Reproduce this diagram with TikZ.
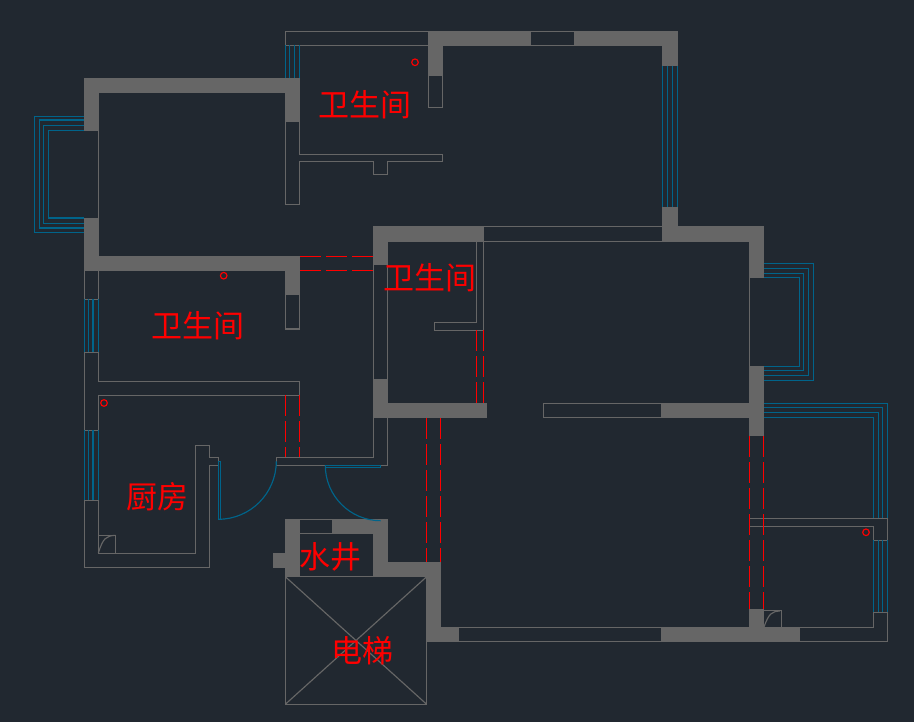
\documentclass[tikz,border=0pt]{standalone}
\usepackage{fontspec}
\newfontfamily\cjk{Noto Sans CJK SC}
\definecolor{cadbg}{HTML}{212830}
\definecolor{cadwall}{HTML}{666666}
\definecolor{cadblue}{HTML}{00648A}
\tikzset{
	wall/.style={fill=cadwall},
	outline/.style={draw=cadwall,line width=1.15pt},
	glass/.style={draw=cadblue,line width=1.15pt},
	hidden/.style={draw=red,line width=1.15pt,dash pattern=on 21pt off 5pt},
	roomlabel/.style={text=red,font=\cjk\fontsize{31}{31}\selectfont,inner sep=0pt},
	drain/.style={draw=red,line width=1.15pt}
}
\begin{document}
\begin{tikzpicture}[y=-1pt, x=1pt]
	\useasboundingbox (0,0) rectangle (914,722);
	\fill[cadbg] (0,0) rectangle (914,722);
	% thin outlines
	\draw[outline] (285.3,45.3) -- (285.3,31.3) -- (428,31.3);
	\draw[outline] (285.3,45.3) -- (428,45.3);
	\draw[outline] (531,31.3) -- (574,31.3) (531,45.3) -- (574,45.3);
	\draw[outline] (428.5,76) -- (428.5,107.7) -- (442.7,107.7) -- (442.7,76);
	\draw[outline] (285.3,122) -- (285.3,204.3) -- (299.3,204.3) -- (299.3,161.7) -- (373.3,161.7) -- (373.3,174.3) -- (387.3,174.3) -- (387.3,161.7) -- (442.7,161.7) -- (442.7,154.3) -- (299.3,154.3) -- (299.3,122);
	\draw[outline] (98.3,131) -- (98.3,218);
	\draw[outline] (285.5,295) -- (285.5,329) -- (299.3,329) -- (299.3,295);
	\draw[outline] (84.3,271) -- (84.3,567.3) -- (209.3,567.3) -- (209.3,465.3) -- (218.3,465.3);
	\draw[outline] (98.3,271) -- (98.3,381.3) -- (299.7,381.3) -- (299.7,395.3) -- (98.3,395.3) -- (98.3,553.3) -- (195.3,553.3) -- (195.3,445.3) -- (209.3,445.3) -- (209.3,457.3) -- (218.3,457.3) -- (218.3,461.3);
	\foreach \y in {299.3, 352.3, 430.3, 500.3}
		\draw[outline] (84.3,\y) -- (98.3,\y);
	\draw[outline] (98.3,535.3) -- (115.3,535.3) -- (115.3,553.3);
	\draw[outline] (98.3,553.3) .. controls (103,538) and (106,536) .. (115.3,535.3);
	\draw[outline] (276.3,457.3) -- (276.3,465.3) -- (387.3,465.3) -- (387.3,417.7);
	\draw[outline] (276.3,457.3) -- (373.7,457.3) -- (373.7,417.7);
	\draw[outline] (373.5,264.7) -- (373.5,379) (387.5,264.7) -- (387.5,379);
	\draw[outline] (484,226.3) -- (662,226.3) (484,241.3) -- (662,241.3);
	\draw[outline] (476.7,242) -- (476.7,322.3) -- (434.3,322.3) -- (434.3,330.3) -- (483.3,330.3) -- (483.3,241.3);
	\draw[outline] (661,403.3) -- (543.3,403.3) -- (543.3,417.3) -- (661,417.3);
	\draw[outline] (749.5,278) -- (749.5,366);
	\draw[outline] (749.3,518.3) -- (887.3,518.3) -- (887.3,641.3) -- (800,641.3);
	\draw[outline] (749.3,526.3) -- (873.3,526.3) -- (873.3,540.3) -- (887.3,540.3);
	\draw[outline] (887.3,612.3) -- (873.3,612.3) -- (873.3,627.3) -- (800,627.3);
	\draw[outline] (764,610.5) -- (781.7,610.5) -- (781.7,627);
	\draw[outline] (764,627) .. controls (769,613) and (772,611.5) .. (780,611);
	\draw[outline] (459,627.5) -- (661,627.5) (459,641.5) -- (661,641.5);
	\draw[outline] (300,519.5) -- (332,519.5) (300,533) -- (332,533);
	\draw[outline] (285.3,576.7) rectangle (426.7,704.3);
	\draw[outline] (285.3,576.7) -- (426.7,704.3) (426.7,576.7) -- (285.3,704.3);
	% walls
	\foreach \xa/\ya/\xb/\yb in {84/78/300/93, 84/78/99/131, 285/78/300/122, 84/218/99/271, 84/256/300/271, 285/256/300/295,
		428/31/531/46, 428/31/443/76, 574/31/678/46, 662/31/678/66, 662/207/678/242, 662/226/764/242, 749/226/764/278,
		749/366/764/436, 661/403/749/418, 373/226/484/242, 373/226/388/265, 373/379/388/418, 373/403/487/418,
		285/519/300/577, 300/519/388/534, 373/519/388/577, 273/553/285/568, 373/562/441/577, 427/562/441/642,
		427/627/459/642, 661/627/800/642, 749/609/764/642}
		\fill[wall] (\xa,\ya) rectangle (\xb,\yb);
	\fill[cadbg] (300,520) rectangle (332,533);
	% windows
	\foreach \xa/\ya/\yb in {34.3/116.3/232.3, 39.3/120/228, 43.3/125.3/223.3, 48.3/130.5/218}
		\draw[glass] (84,\ya) -- (\xa,\ya) -- (\xa,\yb) -- (84,\yb);
	\foreach \xa/\ya/\yb in {813.7/263.3/380.3, 808.7/268.3/375.3, 803.7/273.3/370.3, 799.7/277.3/366.3}
		\draw[glass] (764,\ya) -- (\xa,\ya) -- (\xa,\yb) -- (764,\yb);
	\foreach \xa/\ya in {887.3/403.3, 882.5/407.3, 878.5/412.7, 873.3/417.3}
		\draw[glass] (764,\ya) -- (\xa,\ya) -- (\xa,518.3);
	\foreach \x in {873.3, 878.3, 882.3, 887.3}
		\draw[glass] (\x,540.3) -- (\x,612.3);
	\foreach \x in {285.3, 289.7, 294.3, 299.3}
		\draw[glass] (\x,45.3) -- (\x,78);
	\foreach \x in {662.7, 667.7, 672.7, 677.3}
		\draw[glass] (\x,65.7) -- (\x,207.3);
	\foreach \x in {84.3, 88.7, 93, 98.3} {
		\draw[glass] (\x,299.3) -- (\x,352.3);
		\draw[glass] (\x,430.3) -- (\x,500.3);
	}
	% doors
	\draw[glass] (218.3,461.3) rectangle (220.7,519.3);
	\draw[glass] (276.3,461.3) arc (0:90:58);
	\draw[glass] (325.3,465.3) rectangle (380.7,467.7);
	\draw[glass] (325.3,465.3) arc (180:90:55.4);
	% hidden lines
	\foreach \x in {285.3, 299.3}
		\draw[hidden] (\x,395.3) -- (\x,457.3);
	\foreach \x in {476.7, 483.3}
		\draw[hidden] (\x,330.3) -- (\x,403);
	\foreach \x in {426.7, 440.7}
		\draw[hidden] (\x,418) -- (\x,562);
	\foreach \x in {749.3, 763.3}
		\draw[hidden] (\x,436) -- (\x,609);
	\foreach \y in {256.3, 270.5}
		\draw[hidden] (300,\y) -- (373,\y);
	% drains
	\foreach \x/\y in {223.7/275.7, 415/62.3, 104/403, 866/532.3}
		\draw[drain] (\x,\y) circle (3.3);
	% room names
	\node[roomlabel] (bathnorth) at (365,105) {卫生间};
	\node[roomlabel] (bathmid) at (430,278) {卫生间};
	\node[roomlabel] (bathwest) at (198,326) {卫生间};
	\node[roomlabel] (kitchen) at (157,497) {厨房};
	\node[roomlabel] (shaft) at (330,557) {水井};
	\node[roomlabel] (lift) at (362,651) {电梯};
\end{tikzpicture}
\end{document}
